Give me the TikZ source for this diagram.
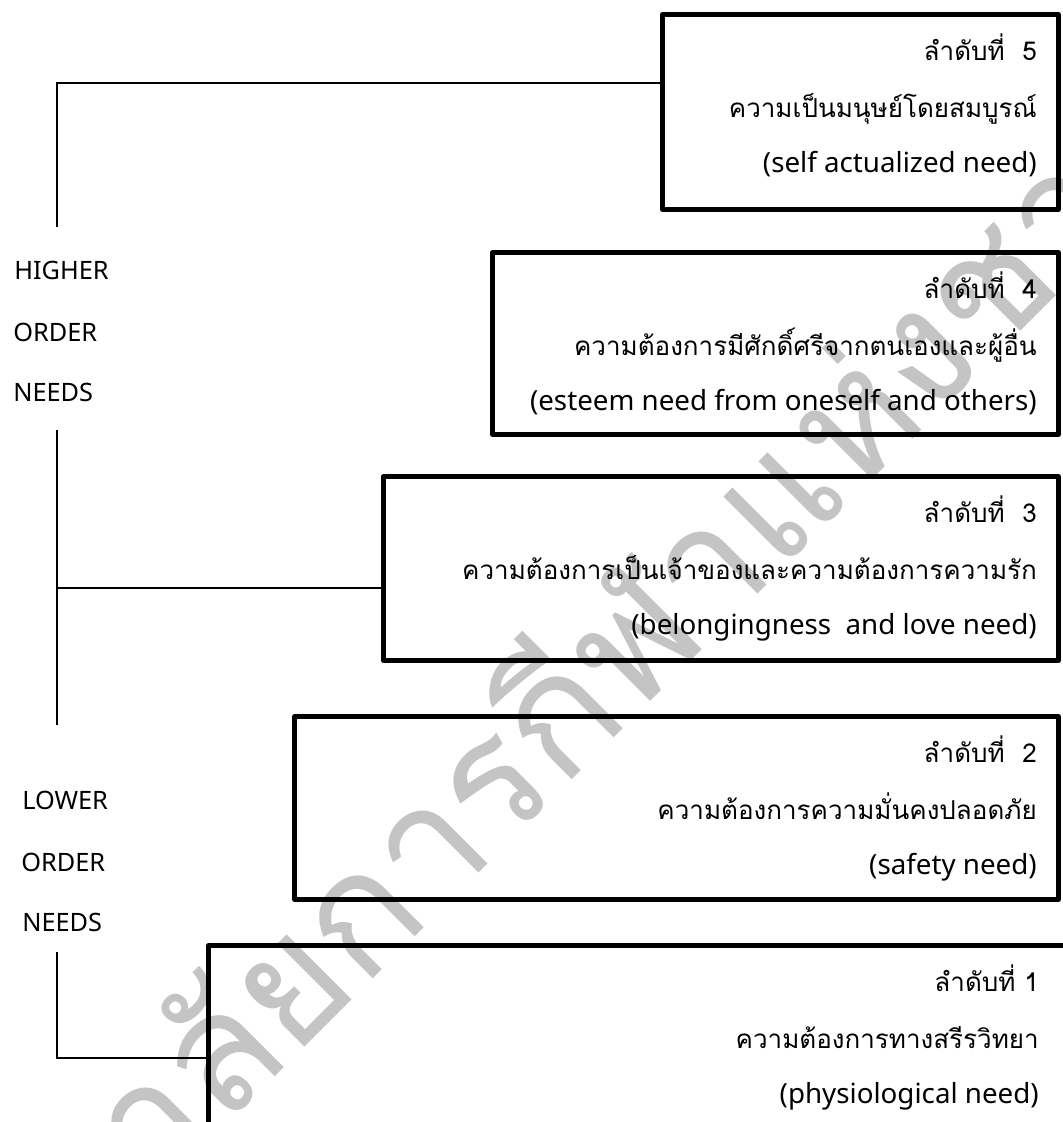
\documentclass[tikz,border=0pt]{standalone}
\usepackage{fontspec}
\setmainfont{Noto Sans}
\newfontfamily\thaifont[Script=Thai]{Loma}
\usetikzlibrary{fit}
\tikzset{
  needbox/.style={draw, line width=3.6pt, inner sep=0pt, outer sep=0pt, rectangle, line join=round},
  conn/.style={line width=1.3pt},
  thtxt/.style={anchor=base east, inner sep=0pt, font=\thaifont\fontsize{19.5}{24}\selectfont},
  entxt/.style={anchor=base east, inner sep=0pt, font=\fontsize{20.8}{24}\selectfont},
  sidetxt/.style={anchor=base west, inner sep=0pt, font=\fontsize{19}{22}\selectfont},
  watermark/.style={anchor=base west, inner sep=0pt, rotate=45, text=black!23, font=\thaifont\fontsize{124}{124}\selectfont}
}
\begin{document}
\begin{tikzpicture}[x=0.75pt,y=-0.75pt]
\useasboundingbox[fill=white] (0,0) rectangle (1063,1122);

% watermark
\node[watermark] (wm) at (222,1130) {\llap{มหาวิทยา}ลัยการกีฬาแห่งชาติ};

% boxes
\node[needbox, fit={(662.5,14.5) (1058.5,209.5)}] (b5) {};
\node[needbox, fit={(492.5,252.5) (1058.5,434.5)}] (b4) {};
\node[needbox, fit={(383.5,476.5) (1058.5,660.5)}] (b3) {};
\node[needbox, fit={(294.5,716.5) (1058.5,899.5)}] (b2) {};
\node[needbox, fit={(208.5,945.5) (1090,1160)}] (b1) {};

% box texts
\node[thtxt] (t5a) at (1037,60) {ลำดับที่\ \ 5};
\node[thtxt] (t5b) at (1037,117) {ความเป็นมนุษย์โดยสมบูรณ์};
\node[entxt] (t5c) at (1037,172) {(self actualized need)};

\node[thtxt] (t4a) at (1037,298) {ลำดับที่\ \ 4};
\node[thtxt] (t4b) at (1037,355) {ความต้องการมีศักดิ์ศรีจากตนเองและผู้อื่น};
\node[entxt] (t4c) at (1037,410) {(esteem need from oneself and others)};

\node[thtxt] (t3a) at (1037,522) {ลำดับที่\ \ 3};
\node[thtxt] (t3b) at (1037,579) {ความต้องการเป็นเจ้าของและความต้องการความรัก};
\node[entxt] (t3c) at (1037,634) {(belongingness\ \ and love need)};

\node[thtxt] (t2a) at (1037,762) {ลำดับที่\ \ 2};
\node[thtxt] (t2b) at (1037,819) {ความต้องการความมั่นคงปลอดภัย};
\node[entxt] (t2c) at (1037,874) {(safety need)};

\node[thtxt] (t1a) at (1039,991) {ลำดับที่ 1};
\node[thtxt] (t1b) at (1039,1048) {ความต้องการทางสรีรวิทยา};
\node[entxt] (t1c) at (1039,1103) {(physiological need)};

% side labels
\node[sidetxt] (hi1) at (14,279) {HIGHER};
\node[sidetxt] (hi2) at (13,341) {ORDER};
\node[sidetxt] (hi3) at (13,401) {NEEDS};
\node[sidetxt] (lo1) at (22,809) {LOWER};
\node[sidetxt] (lo2) at (21,871) {ORDER};
\node[sidetxt] (lo3) at (22,931) {NEEDS};

% connectors
\coordinate (c5) at (57,83);
\coordinate (c5e) at (57,227);
\draw[conn] (c5e) -- (c5) -- (c5 -| b5.west);
\coordinate (c3a) at (57,430);
\coordinate (c3b) at (57,725);
\coordinate (c3) at (57,588);
\draw[conn] (c3a) -- (c3b);
\draw[conn] (c3) -- (c3 -| b3.west);
\coordinate (c1a) at (57,952);
\coordinate (c1) at (57,1058);
\draw[conn] (c1a) -- (c1) -- (c1 -| b1.west);
\end{tikzpicture}
\end{document}
